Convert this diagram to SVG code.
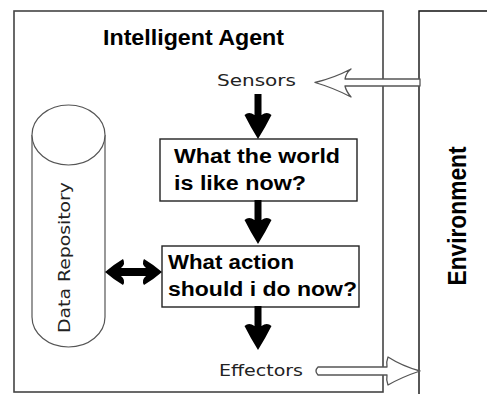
<svg xmlns="http://www.w3.org/2000/svg" width="487" height="394" viewBox="0 0 487 394">
  <style>
    .frame { fill: none; stroke: #444; stroke-width: 1.6; }
    .env { fill: none; stroke: #111; stroke-width: 1.4; }
    .box { fill: #fff; stroke: #222; stroke-width: 1.4; }
    .cyl { fill: #fff; stroke: #555; stroke-width: 1.2; }
    .bold { font-family: "Liberation Sans", Arial, sans-serif; font-weight: bold; fill: #000; }
    .reg { font-family: "DejaVu Sans", "Liberation Sans", sans-serif; fill: #222; }
    .solid { fill: #000; }
    .hollow { fill: #fff; stroke: #555; stroke-width: 1.3; stroke-linejoin: round; }
  </style>
  <defs>
    <!-- fat down arrow head, tip at origin -->
    <path id="downHead" d="M -3.5 -24 Q -9 -28 -13.5 -24 Q -8 -13 0 0 Q 8 -13 13.5 -24 Q 9 -28 3.5 -24 Z"/>
  </defs>

  <rect width="487" height="394" fill="#fff"/>

  <!-- outer frames -->
  <g id="agent">
    <rect class="frame" x="14" y="11" width="369" height="381"/>
    <text class="bold" x="103" y="45" font-size="22" textLength="181" lengthAdjust="spacingAndGlyphs">Intelligent Agent</text>
  </g>
  <g id="environment">
    <path class="env" d="M 488 11 L 419 11 L 419 395"/>
    <text class="bold" font-size="26" text-anchor="middle" textLength="139" lengthAdjust="spacingAndGlyphs" transform="translate(466 216) rotate(-90)">Environment</text>
  </g>

  <!-- data store -->
  <g id="repository">
    <path class="cyl" d="M 32 135 L 32 317 A 36.5 30 0 0 0 105 317 L 105 135"/>
    <ellipse class="cyl" cx="68.5" cy="135" rx="36.5" ry="30"/>
    <text class="reg" font-size="15" text-anchor="middle" textLength="151" lengthAdjust="spacingAndGlyphs" transform="translate(70 257.5) rotate(-90)">Data Repository</text>
  </g>

  <g id="sensors">
    <text class="reg" x="217" y="86" font-size="16" textLength="79" lengthAdjust="spacingAndGlyphs">Sensors</text>
  </g>

  <g id="world-state">
    <rect class="box" x="160" y="139" width="197" height="62"/>
    <text class="bold" x="174" y="163" font-size="20" textLength="166" lengthAdjust="spacingAndGlyphs">What the world</text>
    <text class="bold" x="174" y="190" font-size="20" textLength="132" lengthAdjust="spacingAndGlyphs">is like now?</text>
  </g>

  <g id="action">
    <rect class="box" x="162" y="246" width="197" height="61"/>
    <text class="bold" x="168" y="269" font-size="20" textLength="126" lengthAdjust="spacingAndGlyphs">What action</text>
    <text class="bold" x="168" y="296" font-size="20" textLength="189" lengthAdjust="spacingAndGlyphs">should i do now?</text>
  </g>

  <g id="effectors">
    <text class="reg" x="219" y="376" font-size="16" textLength="84" lengthAdjust="spacingAndGlyphs">Effectors</text>
  </g>

  <g id="connectors">
    <!-- environment to sensors -->
    <path class="hollow" d="M 420 79 L 345 79 Q 346 73 351 69 Q 334 78 315 82.5 Q 334 88 351 97 Q 346 91 345 86 L 420 86 Z"/>
    <!-- effectors to environment -->
    <path class="hollow" d="M 318 367 L 387 367 Q 386 362 388 357 Q 402 366 420 371 Q 402 377 388 385 Q 386 380 387 375 L 318 375 Q 314 371 318 367 Z"/>

    <!-- sensors to world state -->
    <rect class="solid" x="254.5" y="94" width="7" height="24"/>
    <use href="#downHead" class="solid" transform="translate(258 139)"/>
    <!-- world state to action -->
    <rect class="solid" x="254.5" y="200" width="7" height="22"/>
    <use href="#downHead" class="solid" transform="translate(258 244)"/>
    <!-- action to effectors -->
    <rect class="solid" x="254.5" y="306" width="7" height="24"/>
    <use href="#downHead" class="solid" transform="translate(258 350)"/>

    <!-- repository and action, both ways -->
    <path class="solid" d="M 105 272 Q 113 265 123 259 Q 126 264 121 268 L 146 268 Q 141 264 144 259 Q 154 265 162 272 Q 154 279 144 285 Q 141 280 146 276 L 121 276 Q 126 280 123 285 Q 113 279 105 272 Z"/>
  </g>
</svg>
